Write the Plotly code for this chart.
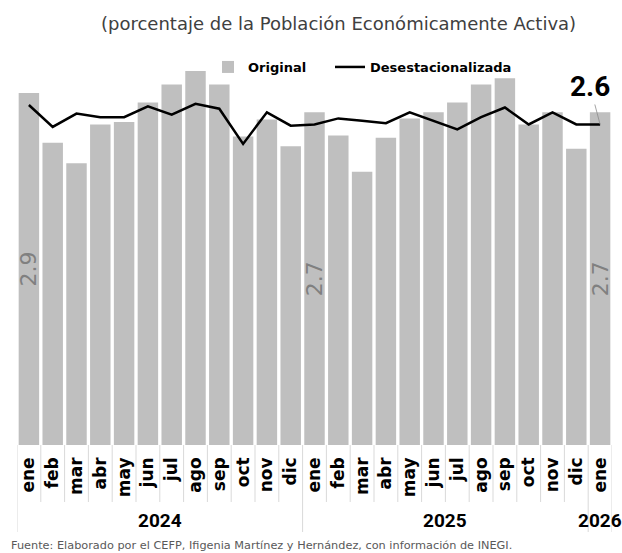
import plotly.graph_objects as go

# ---------------- data ----------------
months = ["ene", "feb", "mar", "abr", "may", "jun", "jul", "ago", "sep", "oct", "nov", "dic",
          "ene", "feb", "mar", "abr", "may", "jun", "jul", "ago", "sep", "oct", "nov", "dic",
          "ene"]
years = ["2024", "2025", "2026"]
year_start = [0, 12, 24]
year_end = [11, 23, 24]

original = [2.90, 2.49, 2.32, 2.64, 2.66, 2.82, 2.97, 3.08, 2.97, 2.54, 2.68, 2.46,
            2.74, 2.55, 2.25, 2.53, 2.69, 2.74, 2.82, 2.97, 3.02, 2.64, 2.74, 2.44,
            2.74]
desestacionalizada = [2.80, 2.62, 2.73, 2.70, 2.70, 2.79, 2.72, 2.81, 2.77, 2.48, 2.74, 2.63,
                      2.64, 2.69, 2.67, 2.65, 2.74, 2.67, 2.60, 2.70, 2.78, 2.64, 2.74, 2.64,
                      2.64]

title_text = "(porcentaje de la Población Económicamente Activa)"
source_text = "Fuente: Elaborado por el CEFP, Ifigenia Martínez y Hernández, con información de INEGI."

# ---------------- styling ----------------
BASE_FONT = "DejaVu Sans, Lato, sans-serif"
NARROW_FONT = "Roboto, DejaVu Sans Condensed, sans-serif"
BAR_COLOR = "#bfbfbf"
DIV_COLOR = "#d9d9d9"

x = list(range(len(months)))
bar_text = [f"{v:.1f}" if m == "ene" else "" for v, m in zip(original, months)]

fig = go.Figure()
fig.add_trace(go.Bar(
    x=x, y=original, name="<b>Original</b>", legend="legend",
    marker=dict(color=BAR_COLOR, line=dict(width=0)),
    text=bar_text, textposition="inside", insidetextanchor="middle",
    textangle=-90, constraintext="none",
    textfont=dict(family=BASE_FONT, size=22, color="#808080"),
    hoverinfo="skip",
))
fig.add_trace(go.Scatter(
    x=x, y=desestacionalizada, name="<b>Desestacionalizada</b>", mode="lines",
    legend="legend2",
    line=dict(color="black", width=2.5), hoverinfo="skip",
))

# plot geometry
H, W = 553, 622
mt, mb, ml, mr = 60, 108, 17, 10
ph = H - mt - mb
pw = W - ml - mr


def py(pixel_y):
    """convert a pixel y (from top of page) to paper coordinate"""
    return (H - mb - pixel_y) / ph


def px(pixel_x):
    return (pixel_x - ml) / pw


shapes = []
year_bounds = [s - 0.5 for s in year_start] + [year_end[-1] + 0.5]
for i in range(len(months) + 1):
    xb = i - 0.5
    is_year = xb in year_bounds
    shapes.append(dict(type="line", xref="x", yref="paper", x0=xb, x1=xb,
                       y0=0, y1=py(532 if is_year else 502),
                       line=dict(color=DIV_COLOR, width=1)))

annotations = []
for yr, s, e in zip(years, year_start, year_end):
    annotations.append(dict(x=(s + e) / 2, xref="x", y=py(520), yref="paper",
                            text=f"<b>{yr}</b>", showarrow=False,
                            font=dict(family=NARROW_FONT, size=19, color="black"),
                            xanchor="center", yanchor="middle"))

annotations.append(dict(x=x[-1], y=desestacionalizada[-1], xref="x", yref="y",
                        text=f"<b>{desestacionalizada[-1]:.1f}</b>",
                        showarrow=True, arrowhead=0, arrowwidth=0.8, arrowcolor="#8c8c8c",
                        ax=-10, ay=-38,
                        font=dict(family=NARROW_FONT, size=28, color="black")))

annotations.append(dict(x=px(338), xref="paper", y=py(24), yref="paper", text=title_text,
                        showarrow=False, xanchor="center", yanchor="middle",
                        font=dict(family=BASE_FONT, size=18, color="#404040")))

annotations.append(dict(x=px(9), xref="paper", y=py(545), yref="paper",
                        text=source_text, showarrow=False, xanchor="left", yanchor="middle",
                        font=dict(family=BASE_FONT, size=11.3, color="#595959")))

legend_common = dict(orientation="h", xanchor="left", yanchor="middle",
                     bgcolor="rgba(0,0,0,0)",
                     font=dict(family=BASE_FONT, size=13, color="black"),
                     itemwidth=30)

fig.update_layout(
    width=W, height=H,
    margin=dict(l=ml, r=mr, t=mt, b=mb),
    paper_bgcolor="white", plot_bgcolor="white",
    bargap=0.14,
    showlegend=True,
    legend=dict(x=px(208), y=py(67), **legend_common),
    legend2=dict(x=px(330), y=py(67), **legend_common),
    xaxis=dict(tickmode="array", tickvals=x, ticktext=[f"<b>{m}</b>" for m in months],
               tickangle=-90, ticks="", showgrid=False, zeroline=False, showline=False,
               range=[-0.5, len(months) - 0.5], ticklabelstandoff=8,
               tickfont=dict(family=BASE_FONT, size=17, color="black")),
    yaxis=dict(range=[0, 3.171], visible=False, showgrid=False, zeroline=False),
    shapes=shapes,
    annotations=annotations,
    font=dict(family=BASE_FONT),
)

fig.write_html("out.html", config={"displayModeBar": False},
               post_script="document.body.style.margin='0';document.body.style.overflow='hidden';")
